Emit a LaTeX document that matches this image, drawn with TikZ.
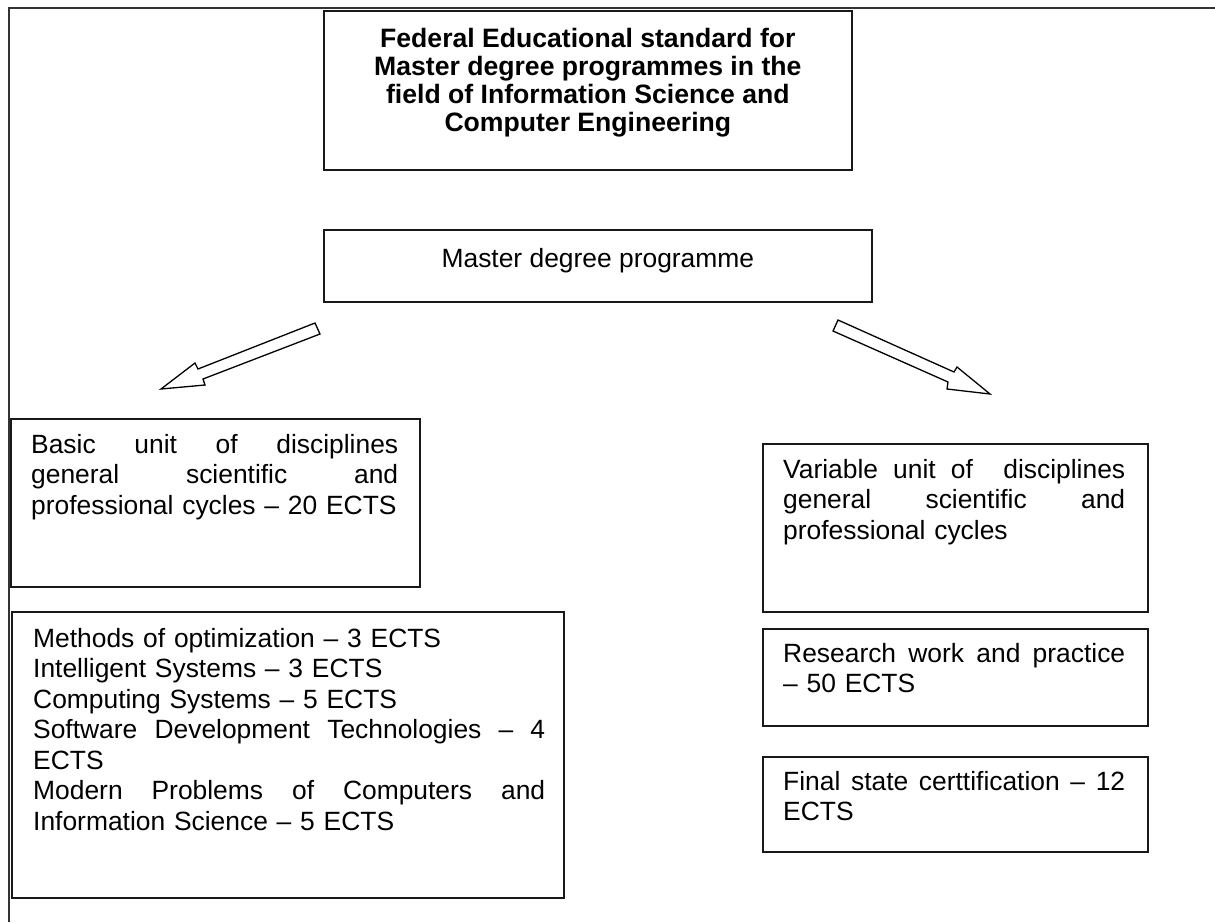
\documentclass[tikz,border=0pt]{standalone}
\usepackage{fontspec}
\setmainfont{Liberation Sans}
\begin{document}
\begin{tikzpicture}[x=1pt,y=-1pt,
  box/.style={draw=black!90, line width=1.7pt, inner sep=0pt, anchor=north west},
  txt/.style={anchor=north west, inner sep=0pt, align=left, font=\fontsize{26.4}{30.5}\selectfont},
  frame/.style={draw=black!80, line width=2.4pt},
  blockarrow/.style={draw=black, line width=1.3pt, fill=white, line join=miter}]
\useasboundingbox (0,0) rectangle (1215,922);

% outer frame (left and top only)
\coordinate (f0) at (9,922);
\coordinate (f1) at (9,8);
\coordinate (f2) at (1215,8);
\draw[frame] (f0) -- (f1) -- (f2);

% boxes
\node[box, minimum width=528, minimum height=159] (title) at (323,10) {};
\node[box, minimum width=548, minimum height=72] (master) at (323,229) {};
\node[box, minimum width=409, minimum height=168] (basic) at (10,418) {};
\node[box, minimum width=552, minimum height=286] (methods) at (11,611) {};
\node[box, minimum width=385, minimum height=168] (variable) at (762,443) {};
\node[box, minimum width=385, minimum height=97] (research) at (762,628) {};
\node[box, minimum width=385, minimum height=95] (final) at (762,756) {};

% texts
\node[anchor=north, inner sep=0pt, align=center, font=\bfseries\fontsize{26.6}{28}\selectfont] (titlet)
  at ([shift={(0,17.4)}]title.north)
  {\strut Federal Educational standard for\\Master degree programmes in the\\field of Information Science and\\Computer Engineering};

\node[anchor=north, inner sep=0pt, font=\fontsize{26.4}{30.5}\selectfont] (mastert)
  at ([shift={(0,16.6)}]master.north) {\strut Master degree programme};

\node[txt, text width=367] (basict) at ([shift={(21,13.65)}]basic.north west)
  {\strut Basic\hfill unit\hfill of\hfill disciplines\\
   general\hfill scientific\hfill and\\
   \mbox{professional cycles – 20 ECTS}};

\node[txt, text width=512] (methodst) at ([shift={(22,14.65)}]methods.north west)
  {\strut Methods of optimization – 3 ECTS\\
   Intelligent Systems – 3 ECTS\\
   Computing Systems – 5 ECTS\\
   Software\hfill Development\hfill Technologies\hfill –\hfill 4\\
   ECTS\\
   Modern\hfill Problems\hfill of\hfill Computers\hfill and\\
   Information Science – 5 ECTS};

\node[txt, text width=342] (variablet) at ([shift={(21,13.65)}]variable.north west)
  {\strut Variable\hfill unit\hfill of\hfill\hfill disciplines\\
   general\hfill scientific\hfill and\\
   professional cycles};

\node[txt, text width=342] (researcht) at ([shift={(21,12.65)}]research.north west)
  {\strut Research\hfill work\hfill and\hfill practice\\
   – 50 ECTS};

\node[txt, text width=342] (finalt) at ([shift={(21,12.65)}]final.north west)
  {\strut Final\hfill state\hfill certtification\hfill –\hfill 12\\
   ECTS};

% block arrows
\coordinate (la1) at (315,323);
\coordinate (la2) at (198,369);
\coordinate (la3) at (195,363);
\coordinate (latip) at (161,389);
\coordinate (la5) at (205,385);
\coordinate (la6) at (203,379);
\coordinate (la7) at (320,334);
\draw[blockarrow] (la1) -- (la2) -- (la3) -- (latip) -- (la5) -- (la6) -- (la7) -- cycle;

\coordinate (ra1) at (838,320);
\coordinate (ra2) at (954,372);
\coordinate (ra3) at (957,367);
\coordinate (ratip) at (990,394);
\coordinate (ra5) at (947,389);
\coordinate (ra6) at (948,382);
\coordinate (ra7) at (833,331);
\draw[blockarrow] (ra1) -- (ra2) -- (ra3) -- (ratip) -- (ra5) -- (ra6) -- (ra7) -- cycle;
\end{tikzpicture}
\end{document}
